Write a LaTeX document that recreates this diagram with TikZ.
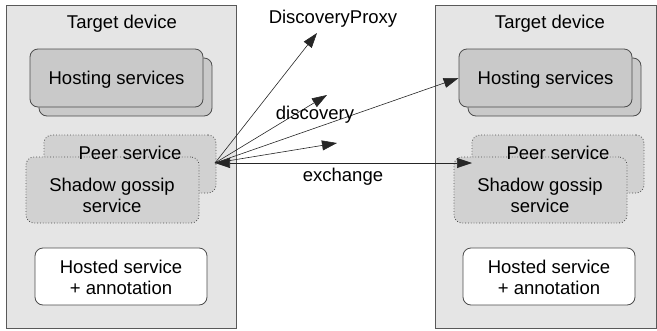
\documentclass[tikz,border=0pt]{standalone}
\usepackage{fontspec}
\setmainfont{Liberation Sans}
\usetikzlibrary{arrows.meta}
\begin{document}
\begin{tikzpicture}[x=1pt,y=-1pt,
  device/.style={draw=black!65, fill=black!10, line width=0.8pt, inner sep=0pt},
  hostbox/.style={draw=black!70, fill=black!21, rounded corners=8pt, line width=0.8pt, inner sep=0pt},
  dotbox/.style={draw=black!70, dotted, fill=black!18, rounded corners=8pt, line width=0.8pt, inner sep=0pt},
  hostedbox/.style={draw=black!70, fill=white, rounded corners=8pt, line width=0.8pt, inner sep=0pt},
  lbl/.style={font=\fontsize{18.5}{21}\selectfont, inner sep=0pt, align=center},
  link/.style={draw=black!85, line width=0.6pt, -{Triangle[length=15pt,width=10pt]}}
]
\useasboundingbox (0,0) rectangle (657,330);

% ---- left device ----
\node[device, minimum width=230, minimum height=323] (ldev) at (121,166.5) {};
\node[lbl] (ldevt) at (122,24) {Target device};
\node[hostbox, minimum width=173, minimum height=58] (lhostb) at (125.5,87) {};
\node[hostbox, minimum width=173, minimum height=58] (lhost) at (116.5,78) {};
\node[lbl] (lhostt) at (116.5,80) {Hosting services};
\node[dotbox, minimum width=172, minimum height=58] (lpeer) at (130,164) {};
\node[dotbox, minimum width=173, minimum height=66] (lshadow) at (112.5,190) {};
\node[lbl] (lpeert) at (130,153) {Peer service};
\node[lbl] (lshadowt) at (112,195.5) {Shadow gossip\\service};
\node[hostedbox, minimum width=172, minimum height=57] (lhosted) at (121,276.5) {};
\node[lbl] (lhostedt) at (121,277) {Hosted service\\+ annotation};

% ---- right device ----
\node[device, minimum width=221, minimum height=323] (rdev) at (545.5,166.5) {};
\node[lbl] (rdevt) at (550,24) {Target device};
\node[hostbox, minimum width=173, minimum height=58] (rhostb) at (554.5,87) {};
\node[hostbox, minimum width=173, minimum height=58] (rhost) at (545.5,78) {};
\node[lbl] (rhostt) at (545.5,80) {Hosting services};
\node[dotbox, minimum width=172, minimum height=58] (rpeer) at (558,164) {};
\node[dotbox, minimum width=173, minimum height=66] (rshadow) at (540.5,190) {};
\node[lbl] (rpeert) at (558,153) {Peer service};
\node[lbl] (rshadowt) at (540,195.5) {Shadow gossip\\service};
\node[hostedbox, minimum width=172, minimum height=57] (rhosted) at (549,276.5) {};
\node[lbl] (rhostedt) at (549,277) {Hosted service\\+ annotation};

% ---- messages leaving the left peer service ----
\coordinate (src) at (215,163);
\coordinate (proxy) at (317,33);
\coordinate (disc1) at (327,95);
\coordinate (disc2) at (337,143);
\coordinate (xend) at (472,163);

\draw[link] (src) -- (proxy);
\draw[link] (src) -- (disc1);
\draw[link] (src) -- (rhost.west);
\draw[link] (src) -- (disc2);
\draw[link, {Triangle[length=15pt,width=10pt]}-{Triangle[length=15pt,width=10pt]}] (src) -- (xend);

\node[lbl] (proxyt) at (333,19) {DiscoveryProxy};
\node[lbl] (disct) at (315,115) {discovery};
\node[lbl] (exct) at (343,177) {exchange};
\end{tikzpicture}
\end{document}
